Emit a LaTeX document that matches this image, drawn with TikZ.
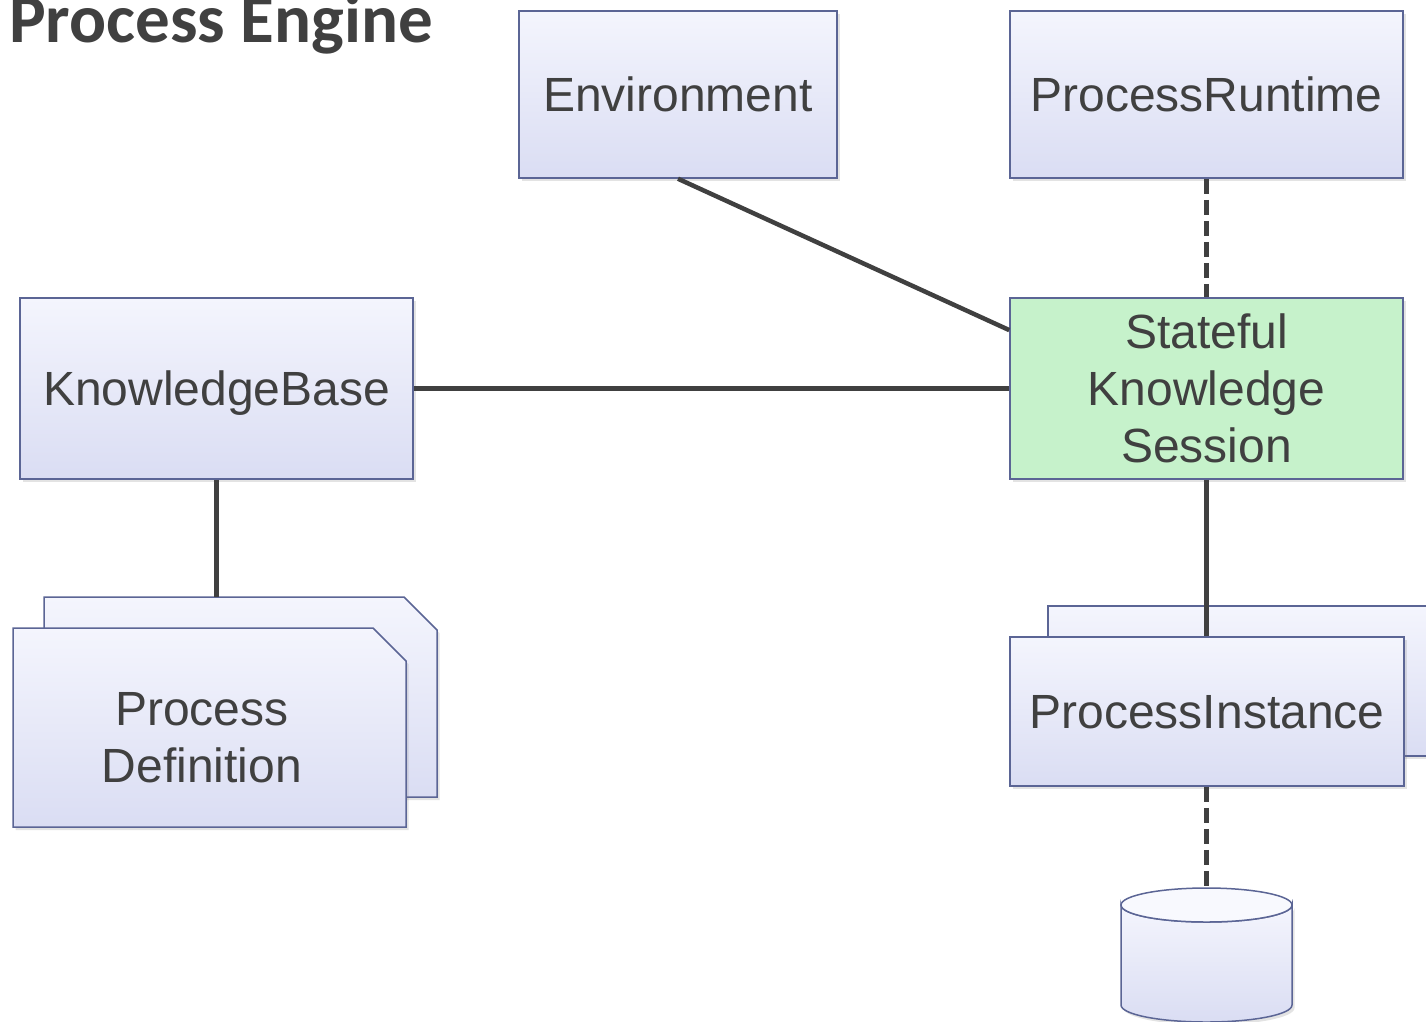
\documentclass[tikz,border=0pt]{standalone}
\usepackage{fontspec}
\setmainfont{Liberation Sans}
\newfontfamily\titlefont{Carlito}
\usetikzlibrary{shadows,calc}

\definecolor{boxtop}{HTML}{F4F5FD}
\definecolor{boxbot}{HTML}{DADDF3}
\definecolor{boxline}{HTML}{5B6595}
\definecolor{textcol}{HTML}{404040}
\definecolor{sessfill}{HTML}{C6F2CB}
\definecolor{linecol}{HTML}{404040}

\begin{document}
\begin{tikzpicture}[x=1pt,y=-1pt,
  softshadow/.style={drop shadow={shadow xshift=2.5pt, shadow yshift=-3pt, opacity=0.22}},
  outline/.style={draw=boxline, line width=1.5pt, softshadow},
  gradfill/.style={top color=boxtop, bottom color=boxbot},
  labelfont/.style={text=textcol, font=\fontsize{48}{57}\selectfont, align=center, inner sep=0pt},
  box/.style={outline, gradfill, labelfont, text height=34pt, text depth=0pt},
  link/.style={draw=linecol, line width=4.5pt},
  dlink/.style={link, dash pattern=on 15pt off 6pt}]

\fill[white] (0,0) rectangle (1426,1021);
\useasboundingbox (0,0) rectangle (1426,1021);

% title
\node[anchor=base west, inner sep=0pt, text=textcol,
  font=\titlefont\bfseries\fontsize{69}{80}\selectfont] (title) at (9,42) {Process Engine};

% top row
\node[box, minimum width=318pt, minimum height=167pt] (env) at (678,94.5) {Environment};
\node[box, minimum width=393pt, minimum height=167pt] (pr) at (1206.5,94.5) {ProcessRuntime};

% middle row
\node[box, minimum width=393pt, minimum height=181pt] (kb) at (216.5,388.5) {KnowledgeBase};
\node[outline, labelfont, fill=sessfill, minimum width=393pt, minimum height=181pt] (sks)
  at (1206.5,388.5) {Stateful\\Knowledge\\Session};

% stacked process definitions (cut top-right corner)
\shade[outline, gradfill]
  (44,597) -- (404,597) -- (437,630) -- (437,797) -- (44,797) -- cycle;
\coordinate (pdbacktop) at (240.5,597);
\shade[outline, gradfill]
  (13,628) -- (373,628) -- (406,661) -- (406,827) -- (13,827) -- cycle;
\node[labelfont] (pdtext) at (202,738) {Process\\Definition};

% stacked process instances
\node[box, minimum width=394pt, minimum height=150pt] (piback) at (1245,681) {};
\node[box, minimum width=394pt, minimum height=149pt] (pifront) at (1207,711.5) {ProcessInstance};

% database
\coordinate (dbtop) at (1206.5,888);
\shade[outline, gradfill]
  (1121,905) -- (1121,1005) arc[start angle=180, end angle=0, x radius=85.5, y radius=17]
  -- (1292,905) arc[start angle=0, end angle=180, x radius=85.5, y radius=17] -- cycle;
\filldraw[fill=boxtop!60!white, draw=boxline, line width=1.5pt]
  (1206.5,905) ellipse[x radius=85.5, y radius=17];

% connectors
\draw[link] (env.south) -- ($(sks.north west)!0.18!(sks.south west)$);
\draw[link] (kb.east) -- (sks.west);
\draw[dlink] (pr.south) -- (sks.north);
\draw[link] (kb.south) -- (kb.south |- pdbacktop);
\draw[link] (sks.south) -- (sks.south |- pifront.north);
\draw[dlink] (pifront.south -| sks.south) -- (dbtop);
\end{tikzpicture}
\end{document}
